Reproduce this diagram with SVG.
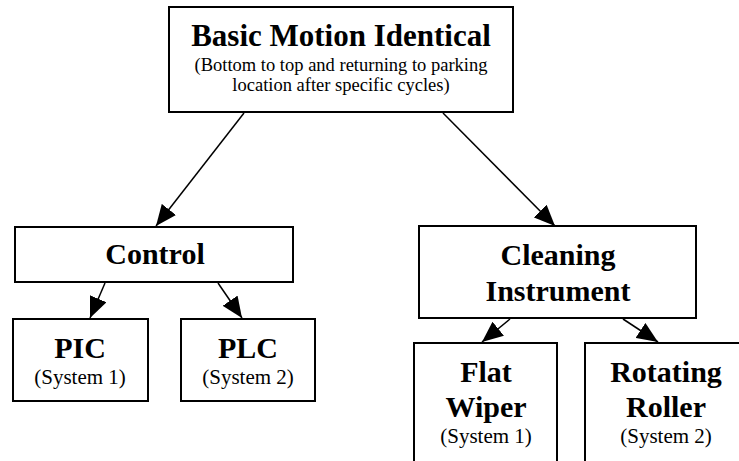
<svg xmlns="http://www.w3.org/2000/svg" width="739" height="461" viewBox="0 0 739 461">
  <style>
    .box { fill: #ffffff; stroke: #000000; stroke-width: 2; }
    .t { font-family: "Liberation Serif", "Times New Roman", serif; fill: #000000; text-anchor: middle; }
    .big { font-size: 30px; font-weight: bold; }
    .head { font-size: 31px; font-weight: bold; }
    .sub { font-size: 18.5px; }
    .sys { font-size: 21px; }
    .edge { stroke: #000000; stroke-width: 1.5; fill: none; marker-end: url(#arrow); }
  </style>
  <defs>
    <marker id="arrow" viewBox="0 0 10 10" refX="10" refY="5" markerUnits="userSpaceOnUse" markerWidth="21" markerHeight="18" preserveAspectRatio="none" orient="auto">
      <path d="M0,0 L10,5 L0,10 z" fill="#000000"/>
    </marker>
  </defs>
  <rect width="739" height="461" fill="#ffffff"/>

  <g id="connectors">
    <line class="edge" x1="244" y1="113" x2="156" y2="226"/>
    <line class="edge" x1="443" y1="113" x2="555" y2="226"/>
    <line class="edge" x1="105" y1="283" x2="90" y2="318"/>
    <line class="edge" x1="218" y1="283" x2="242" y2="318"/>
    <line class="edge" x1="510" y1="319" x2="482" y2="342"/>
    <line class="edge" x1="623" y1="319" x2="658" y2="342"/>
  </g>

  <g id="basic-motion">
    <rect class="box" x="169" y="7" width="344" height="105"/>
    <text class="t head" x="341" y="46">Basic Motion Identical</text>
    <text class="t sub" x="341" y="71">(Bottom to top and returning to parking</text>
    <text class="t sub" x="341" y="91">location after specific cycles)</text>
  </g>

  <g id="control">
    <rect class="box" x="15" y="227" width="278" height="55"/>
    <text class="t big" x="155" y="264">Control</text>
  </g>

  <g id="pic">
    <rect class="box" x="13" y="319" width="135" height="82"/>
    <text class="t big" x="80" y="358">PIC</text>
    <text class="t sys" x="80" y="384">(System 1)</text>
  </g>

  <g id="plc">
    <rect class="box" x="181" y="319" width="134" height="82"/>
    <text class="t big" x="248" y="358">PLC</text>
    <text class="t sys" x="248" y="384">(System 2)</text>
  </g>

  <g id="cleaning-instrument">
    <rect class="box" x="419" y="226" width="277" height="92"/>
    <text class="t big" x="558" y="265">Cleaning</text>
    <text class="t big" x="558" y="301">Instrument</text>
  </g>

  <g id="flat-wiper">
    <rect class="box" x="414" y="343" width="143" height="130"/>
    <text class="t big" x="486" y="382">Flat</text>
    <text class="t big" x="486" y="417">Wiper</text>
    <text class="t sys" x="486" y="443">(System 1)</text>
  </g>

  <g id="rotating-roller">
    <rect class="box" x="585" y="343" width="170" height="130"/>
    <text class="t big" x="666" y="382">Rotating</text>
    <text class="t big" x="666" y="417">Roller</text>
    <text class="t sys" x="666" y="443">(System 2)</text>
  </g>
</svg>
